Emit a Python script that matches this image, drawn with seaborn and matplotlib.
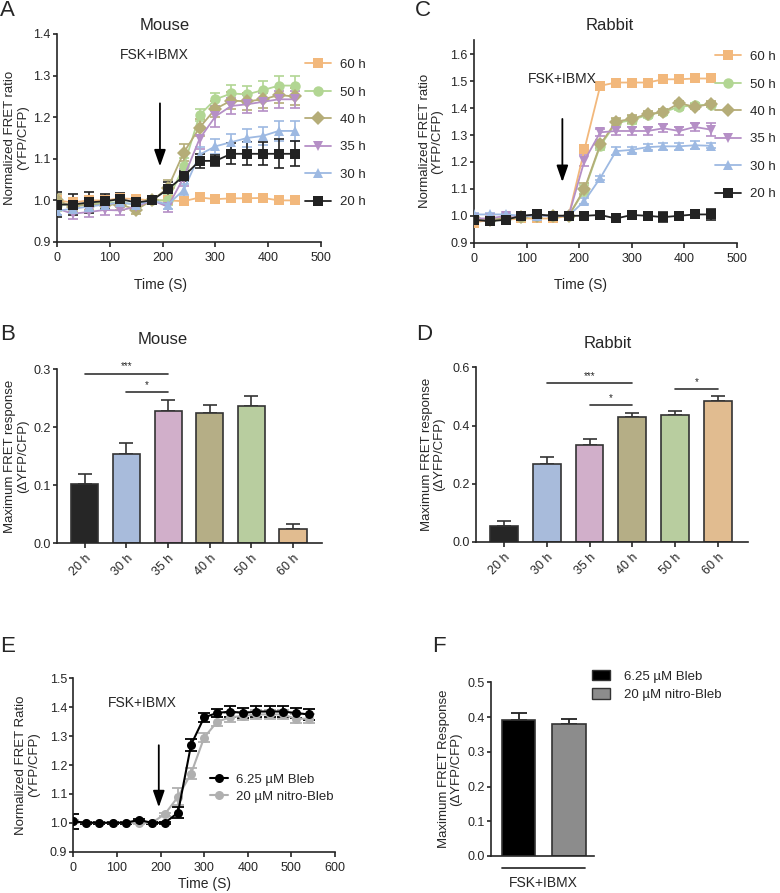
import numpy as np
import pandas as pd
import seaborn as sns
import matplotlib.pyplot as plt
from matplotlib.patches import Patch

sns.set_style("ticks")
plt.rcParams['font.family'] = ['Liberation Sans', 'DejaVu Sans']
plt.rcParams['axes.linewidth'] = 1.2
plt.rcParams['xtick.major.width'] = 1.2
plt.rcParams['ytick.major.width'] = 1.2
plt.rcParams['font.size'] = 10

# ---- data ----
groups = ['60 h', '50 h', '40 h', '35 h', '30 h', '20 h']
colors = {'60 h': '#f2b87c', '50 h': '#b2d693', '40 h': '#b5ad78',
          '35 h': '#b58fc6', '30 h': '#9db9e2', '20 h': '#222222'}
bar_colors = ['#262626', '#9fb9e3', '#d7a9cd', '#bdb47e', '#b9d597', '#efbd82']
markers = {'60 h': 's', '50 h': 'o', '40 h': 'D', '35 h': 'v', '30 h': '^', '20 h': 's'}

time_s = [0, 30, 60, 90, 120, 150, 180, 210, 240, 270, 300, 330, 360, 390, 420, 450]

# mouse time courses
m60 = [1.0, 0.995, 1.0, 1.0, 1.005, 1.003, 1.0, 1.0, 0.998, 1.007, 1.003, 1.005, 1.005, 1.006, 1.0, 1.0]
m50 = [0.99, 0.99, 0.99, 0.995, 0.995, 0.99, 1.0, 1.0, 1.082, 1.205, 1.243, 1.257, 1.255, 1.265, 1.276, 1.276]
m40 = [1.0, 0.985, 0.99, 0.99, 0.99, 0.978, 1.0, 1.03, 1.115, 1.175, 1.22, 1.24, 1.238, 1.243, 1.253, 1.25]
m35 = [0.98, 0.968, 0.972, 0.977, 0.976, 0.985, 1.0, 0.985, 1.055, 1.148, 1.202, 1.227, 1.231, 1.237, 1.243, 1.243]
m30 = [0.975, 0.98, 0.985, 0.99, 0.995, 0.99, 1.0, 0.99, 1.025, 1.11, 1.13, 1.14, 1.15, 1.155, 1.167, 1.167]
m20 = [0.99, 0.99, 0.995, 0.998, 1.003, 0.995, 1.0, 1.027, 1.058, 1.095, 1.095, 1.112, 1.112, 1.112, 1.112, 1.112]
m60_err = [0.005, 0.005, 0.005, 0.005, 0.005, 0.005, 0.0, 0.004, 0.004, 0.006, 0.005, 0.005, 0.005, 0.005, 0.005, 0.005]
m50_err = [0.015, 0.012, 0.012, 0.012, 0.012, 0.01, 0.0, 0.012, 0.02, 0.015, 0.016, 0.02, 0.02, 0.022, 0.022, 0.022]
m40_err = [0.015, 0.012, 0.012, 0.012, 0.012, 0.01, 0.0, 0.02, 0.02, 0.02, 0.02, 0.02, 0.02, 0.02, 0.02, 0.02]
m35_err = [0.015, 0.012, 0.012, 0.012, 0.012, 0.01, 0.0, 0.012, 0.02, 0.025, 0.025, 0.02, 0.022, 0.022, 0.02, 0.02]
m30_err = [0.01, 0.01, 0.01, 0.01, 0.01, 0.01, 0.0, 0.01, 0.015, 0.018, 0.018, 0.02, 0.022, 0.022, 0.025, 0.025]
m20_err = [0.03, 0.025, 0.025, 0.018, 0.015, 0.01, 0.005, 0.018, 0.012, 0.016, 0.013, 0.025, 0.028, 0.028, 0.035, 0.03]

# rabbit time courses
r60 = [0.975, 0.985, 0.985, 0.99, 0.99, 0.99, 1.0, 1.247, 1.483, 1.495, 1.495, 1.495, 1.507, 1.507, 1.51, 1.51]
r50 = [0.99, 0.985, 0.99, 0.995, 1.0, 1.0, 1.0, 1.095, 1.26, 1.345, 1.355, 1.375, 1.385, 1.405, 1.41, 1.413]
r40 = [0.99, 0.985, 0.99, 0.995, 1.0, 1.0, 1.0, 1.1, 1.265, 1.35, 1.36, 1.378, 1.385, 1.418, 1.405, 1.415]
r35 = [0.99, 0.99, 1.0, 1.0, 1.0, 1.0, 1.0, 1.205, 1.31, 1.315, 1.315, 1.315, 1.325, 1.315, 1.33, 1.32]
r30 = [1.005, 1.005, 1.005, 1.0, 1.0, 1.0, 1.0, 1.055, 1.14, 1.24, 1.245, 1.255, 1.258, 1.258, 1.262, 1.26]
r20 = [0.985, 0.98, 0.985, 1.0, 1.005, 1.0, 1.0, 1.0, 1.003, 0.99, 1.003, 1.0, 0.995, 1.0, 1.005, 1.005]
r60_err = [0.005, 0.005, 0.005, 0.005, 0.005, 0.005, 0.0, 0.015, 0.008, 0.008, 0.008, 0.008, 0.008, 0.008, 0.008, 0.008]
r50_err = [0.005, 0.005, 0.005, 0.005, 0.005, 0.005, 0.0, 0.02, 0.015, 0.015, 0.015, 0.012, 0.012, 0.012, 0.01, 0.01]
r40_err = [0.005, 0.005, 0.005, 0.005, 0.005, 0.005, 0.0, 0.02, 0.015, 0.015, 0.015, 0.012, 0.012, 0.01, 0.01, 0.01]
r35_err = [0.005, 0.005, 0.005, 0.005, 0.005, 0.005, 0.0, 0.02, 0.012, 0.015, 0.015, 0.015, 0.015, 0.015, 0.015, 0.025]
r30_err = [0.005, 0.005, 0.005, 0.005, 0.005, 0.005, 0.0, 0.01, 0.008, 0.015, 0.012, 0.012, 0.012, 0.012, 0.015, 0.01]
r20_err = [0.01, 0.008, 0.008, 0.008, 0.008, 0.008, 0.0, 0.005, 0.008, 0.012, 0.008, 0.008, 0.018, 0.008, 0.012, 0.02]

# max responses
bar_labels = ['20 h', '30 h', '35 h', '40 h', '50 h', '60 h']
mouse_max = [0.102, 0.153, 0.227, 0.225, 0.237, 0.025]
mouse_max_err = [0.018, 0.019, 0.019, 0.013, 0.016, 0.008]
rabbit_max = [0.055, 0.268, 0.333, 0.43, 0.435, 0.483]
rabbit_max_err = [0.017, 0.023, 0.02, 0.013, 0.015, 0.017]

# blebbistatin
time_e = [0, 30, 60, 90, 120, 150, 180, 210, 240, 270, 300, 330, 360, 390, 420, 450, 480, 510, 540]
bleb = [1.005, 1.0, 1.0, 1.0, 1.0, 1.01, 1.0, 1.0, 1.035, 1.27, 1.365, 1.38, 1.385, 1.38, 1.385, 1.385, 1.385, 1.38, 1.375]
bleb_err = [0.025, 0.003, 0.003, 0.003, 0.003, 0.003, 0.003, 0.003, 0.018, 0.02, 0.015, 0.015, 0.018, 0.018, 0.018, 0.018, 0.018, 0.018, 0.018]
nitro = [1.005, 1.0, 1.0, 1.0, 1.0, 1.0, 1.0, 1.03, 1.09, 1.17, 1.295, 1.35, 1.365, 1.37, 1.375, 1.375, 1.375, 1.36, 1.36]
nitro_err = [0.005, 0.003, 0.003, 0.003, 0.003, 0.003, 0.003, 0.005, 0.03, 0.02, 0.015, 0.015, 0.015, 0.015, 0.015, 0.015, 0.015, 0.015, 0.015]
f_labels = ['6.25 µM Bleb', '20 µM nitro-Bleb']
f_vals = [0.392, 0.38]
f_err = [0.02, 0.015]

fig = plt.figure(figsize=(7.8, 8.93), dpi=100)
W, H = 780, 893
TICK = 9


def ax_px(l, r, b, t):
    return fig.add_axes([l / W, 1 - b / H, (r - l) / W, (b - t) / H])


def place_ylabel(ax, text, xc):
    ax.set_ylabel(text, fontsize=9.5, linespacing=1.05)
    ax.yaxis.set_label_coords(xc, 0.5)
    ax.yaxis.label.set_va('center')


def style_ticks(ax):
    ax.tick_params(axis='y', labelsize=TICK, length=3, pad=1.5)
    ax.tick_params(axis='x', labelsize=TICK, length=3.5, pad=4)


def time_course(ax, series, errs, arrow_x, arrow_top, arrow_tip, txt_x, txt_y):
    df = pd.concat([pd.DataFrame({'t': time_s, 'v': s, 'g': g}) for g, s in zip(groups, series)])
    sns.lineplot(data=df, x='t', y='v', hue='g', style='g', hue_order=groups, style_order=groups,
                 palette=colors, markers=markers, dashes=False, markersize=7.5, linewidth=1.3,
                 markeredgewidth=0, ax=ax, zorder=3)
    for g, s, e in zip(groups, series, errs):
        ax.errorbar(time_s, s, yerr=e, fmt='none', ecolor=colors[g], elinewidth=1.2, capsize=3.5,
                    capthick=1.2, zorder=2)
    ax.annotate('', xy=(arrow_x, arrow_tip), xytext=(arrow_x, arrow_top),
                arrowprops=dict(arrowstyle='-|>,head_width=0.35,head_length=1.0', color='black', lw=1.3))
    ax.text(txt_x, txt_y, 'FSK+IBMX', ha='center', va='center', fontsize=10)
    ax.set_xlim(0, 500)
    ax.set_xticks([0, 100, 200, 300, 400, 500])
    ax.set_xlabel('')
    style_ticks(ax)
    sns.despine(ax=ax)


legend_kw = dict(frameon=False, title=None, fontsize=9.5, handlelength=2.0, labelspacing=1.15,
                 handletextpad=0.7)

# ---- A ----
axA = ax_px(57, 321, 242, 34)
time_course(axA, [m60, m50, m40, m35, m30, m20],
            [m60_err, m50_err, m40_err, m35_err, m30_err, m20_err],
            195, 1.24, 1.075, 185, 1.35)
axA.set_ylim(0.9, 1.4)
axA.set_yticks([0.9, 1.0, 1.1, 1.2, 1.3, 1.4])
place_ylabel(axA, 'Normalized FRET ratio\n(YFP/CFP)', -0.153)
sns.move_legend(axA, 'upper left', bbox_to_anchor=(293 / W, 1 - 47 / H), bbox_transform=fig.transFigure,
                **legend_kw)

# ---- C ----
axC = ax_px(474, 737, 242.7, 40)
time_course(axC, [r60, r50, r40, r35, r30, r20],
            [r60_err, r50_err, r40_err, r35_err, r30_err, r20_err],
            168, 1.37, 1.115, 168, 1.508)
axC.set_ylim(0.9, 1.653)
axC.set_yticks([0.9, 1.0, 1.1, 1.2, 1.3, 1.4, 1.5, 1.6])
place_ylabel(axC, 'Normalized FRET ratio\n(YFP/CFP)', -0.162)
sns.move_legend(axC, 'upper left', bbox_to_anchor=(703 / W, 1 - 39 / H), bbox_transform=fig.transFigure,
                **legend_kw)


def bar_panel(ax, vals, errs, ymax, step, sig, xc):
    df = pd.DataFrame({'g': bar_labels, 'v': vals})
    sns.barplot(data=df, x='g', y='v', hue='g', palette=bar_colors, order=bar_labels, legend=False,
                width=0.65, edgecolor='#333333', linewidth=1.2, ax=ax, zorder=2)
    ax.errorbar(range(len(vals)), vals, yerr=[np.zeros(len(errs)), errs], fmt='none', ecolor='#333333',
                elinewidth=1.2, capsize=5, capthick=1.2, zorder=1)
    for x0, x1, y, lab in sig:
        ax.plot([x0, x1], [y, y], color='#333333', lw=1.2)
        ax.text((x0 + x1) / 2, y + ymax * 0.012, lab, ha='center', va='bottom', fontsize=7)
    ax.set_ylim(0, ymax)
    ax.set_yticks(np.arange(0, ymax + 1e-9, step))
    ax.set_xlim(-0.66, 5.69)
    ax.set_xlabel('')
    place_ylabel(ax, 'Maximum FRET response\n(ΔYFP/CFP)', xc)
    style_ticks(ax)
    ax.tick_params(axis='x', pad=3)
    for lab in ax.get_xticklabels():
        lab.set_rotation(45)
        lab.set_ha('right')
        lab.set_rotation_mode('anchor')
    sns.despine(ax=ax)


# ---- B ----
axB = ax_px(57.3, 321.7, 543.3, 369)
bar_panel(axB, mouse_max, mouse_max_err, 0.3, 0.1,
          [(0, 2, 0.292, '***'), (1, 2, 0.26, '*')], -0.154)
axB.set_yticklabels(['0.0', '0.1', '0.2', '0.3'])

# ---- D ----
axD = ax_px(476, 748, 542, 367.3)
bar_panel(axD, rabbit_max, rabbit_max_err, 0.6, 0.2,
          [(1, 3, 0.547, '***'), (2, 3, 0.47, '*'), (4, 5, 0.524, '*')], -0.158)
axD.set_xlim(-0.65, 5.7)
axD.set_yticklabels(['0.0', '0.2', '0.4', '0.6'])

# ---- E ----
axE = ax_px(73.3, 335, 851.7, 678.3)
dfe = pd.concat([pd.DataFrame({'t': time_e, 'v': bleb, 'g': f_labels[0]}),
                 pd.DataFrame({'t': time_e, 'v': nitro, 'g': f_labels[1]})])
e_pal = {f_labels[0]: '#000000', f_labels[1]: '#b0b0b0'}
sns.lineplot(data=dfe, x='t', y='v', hue='g', hue_order=f_labels[::-1], palette=e_pal, marker='o',
             markersize=6.5, markeredgewidth=0, linewidth=1.5, ax=axE, zorder=3)
axE.errorbar(time_e, nitro, yerr=nitro_err, fmt='none', ecolor='#b0b0b0', elinewidth=1.3, capsize=4,
             capthick=1.3, zorder=2)
axE.errorbar(time_e, bleb, yerr=bleb_err, fmt='none', ecolor='#000000', elinewidth=1.3, capsize=4,
             capthick=1.3, zorder=2)
axE.annotate('', xy=(196, 1.044), xytext=(196, 1.278),
             arrowprops=dict(arrowstyle='-|>,head_width=0.35,head_length=1.0', color='black', lw=1.3))
axE.text(159, 1.416, 'FSK+IBMX', ha='center', va='center', fontsize=10)
axE.set_xlim(0, 600)
axE.set_ylim(0.9, 1.5)
axE.set_xticks([0, 100, 200, 300, 400, 500, 600])
axE.set_yticks([0.9, 1.0, 1.1, 1.2, 1.3, 1.4, 1.5])
axE.set_xlabel('Time (S)', fontsize=10, labelpad=2)
place_ylabel(axE, 'Normalized FRET Ratio\n(YFP/CFP)', -0.175)
style_ticks(axE)
sns.despine(ax=axE)
h, l = axE.get_legend_handles_labels()
axE.legend(h[::-1], l[::-1], loc='upper left', bbox_to_anchor=(198 / W, 1 - 762 / H),
           bbox_transform=fig.transFigure, frameon=False, fontsize=9.5, handlelength=1.4,
           labelspacing=0.35, handletextpad=0.6)

# ---- F ----
axF = ax_px(490.7, 594, 856, 682.3)
dff = pd.DataFrame({'g': f_labels, 'v': f_vals})
sns.barplot(data=dff, x='g', y='v', hue='g', palette=['#000000', '#8c8c8c'], legend=False,
            width=0.67, edgecolor='#333333', linewidth=1.2, ax=axF, zorder=2)
axF.errorbar([0, 1], f_vals, yerr=[[0, 0], f_err], fmt='none', ecolor='#222222', elinewidth=1.3,
             capsize=6, capthick=1.3, zorder=1)
axF.set_xlim(-0.556, 1.5)
axF.set_ylim(0, 0.5)
axF.set_yticks([0, 0.1, 0.2, 0.3, 0.4, 0.5])
axF.set_yticklabels(['0.0', '0.1', '0.2', '0.3', '0.4', '0.5'])
axF.set_xticks([])
axF.set_xlabel('')
place_ylabel(axF, 'Maximum FRET Response\n(ΔYFP/CFP)', -0.394)
style_ticks(axF)
sns.despine(ax=axF)
axF.plot([-0.33, 1.33], [-0.035, -0.035], color='#333333', lw=1.3, clip_on=False)
axF.text(0.5, -0.058, 'FSK+IBMX', ha='center', va='top', fontsize=10)
axF.legend([Patch(facecolor='#000000', edgecolor='#333333'), Patch(facecolor='#8c8c8c', edgecolor='#333333')],
           f_labels, loc='upper left', bbox_to_anchor=(580 / W, 1 - 658 / H), bbox_transform=fig.transFigure,
           frameon=False, fontsize=9.5, handlelength=1.4, handleheight=0.8, labelspacing=0.45,
           handletextpad=1.0)

# ---- texts ----
for txt, x, y in [('Mouse', 165, 25), ('Rabbit', 610, 25), ('Mouse', 163, 340), ('Rabbit', 608, 343)]:
    fig.text(x / W, 1 - y / H, txt, ha='center', va='center', fontsize=12)
for txt, x, y in [('A', 0, 10), ('C', 415, 11), ('B', 0, 334), ('D', 416, 335), ('E', 0, 646), ('F', 432, 646)]:
    fig.text(x / W, 1 - y / H, txt, ha='left', va='center', fontsize=16)
fig.text(160 / W, 1 - 285 / H, 'Time (S)', ha='center', va='center', fontsize=10)
fig.text(580 / W, 1 - 285 / H, 'Time (S)', ha='center', va='center', fontsize=10)

fig.savefig('out.png', dpi=100)
